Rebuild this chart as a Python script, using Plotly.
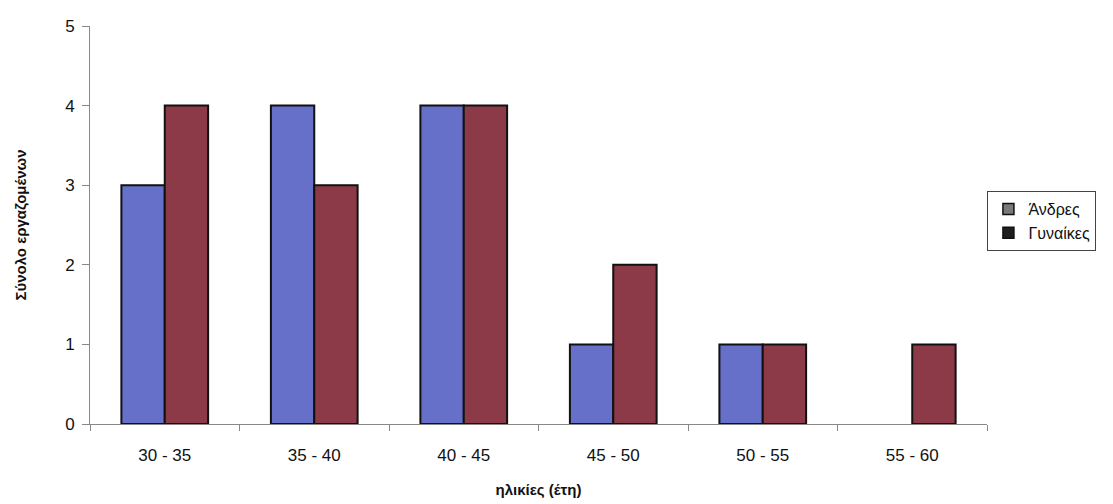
import plotly.graph_objects as go

categories = ["30 - 35", "35 - 40", "40 - 45", "45 - 50", "50 - 55", "55 - 60"]
men = [3, 4, 4, 1, 1, 0]
women = [4, 3, 4, 2, 1, 1]
series_names = ["Άνδρες", "Γυναίκες"]
bar_colors = ["#6670c8", "#8c3a48"]
legend_colors = ["#7a7a7a", "#1e1e1e"]

fig = go.Figure()
for name, vals, col in zip(series_names, [men, women], bar_colors):
    fig.add_trace(go.Bar(x=categories, y=vals, name=name, marker_color=col,
                         marker_line_color="#111111",
                         marker_line_width=[2 if v > 0 else 0 for v in vals],
                         showlegend=False))
for name, col in zip(series_names, legend_colors):
    fig.add_trace(go.Scatter(x=[None], y=[None], name=name, mode="markers",
                             marker=dict(symbol="square", size=11, color=col,
                                         line=dict(color="#111111", width=1.5))))

fig.update_layout(
    width=1113, height=504,
    margin=dict(l=90, r=126, t=26, b=80),
    paper_bgcolor="white", plot_bgcolor="white",
    barmode="group", bargap=0.42, bargroupgap=0,
    font=dict(family="Liberation Sans, Arial, sans-serif", color="#111111", size=17),
    legend=dict(x=1.122, y=0.51, xanchor="right", yanchor="middle",
                bordercolor="#444444", borderwidth=1, font=dict(size=16),
                itemwidth=30, tracegroupgap=2),
)
fig.update_yaxes(range=[0, 5], dtick=1, showgrid=False, showline=True,
                 linecolor="#888888", linewidth=1, ticks="outside", ticklen=7,
                 tickcolor="#888888", zeroline=False, ticklabelstandoff=4,
                 title=dict(text="<b>Σύνολο εργαζομένων</b>", font=dict(size=15), standoff=34))
fig.update_xaxes(showline=True, linecolor="#888888", linewidth=1, ticks="outside",
                 tickson="boundaries", ticklen=6, tickcolor="#888888",
                 ticklabelstandoff=16, automargin=False,
                 title=dict(text="<b>ηλικίες (έτη)</b>", font=dict(size=15), standoff=20))

fig.write_html("out.html")
